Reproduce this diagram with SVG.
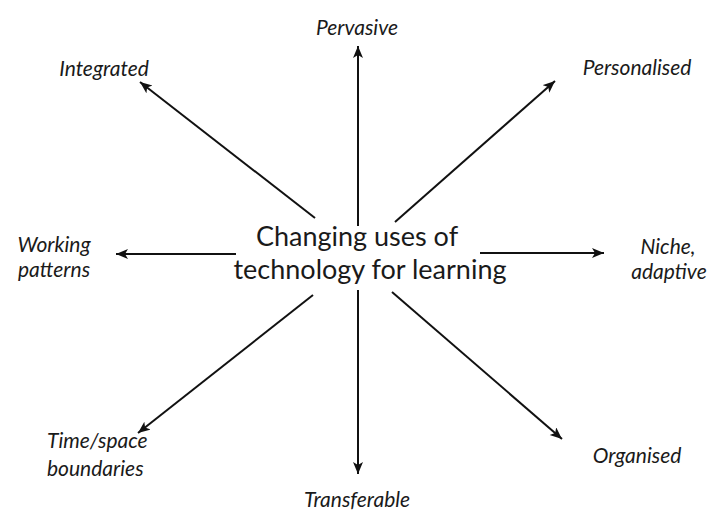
<svg xmlns="http://www.w3.org/2000/svg" width="716" height="513" viewBox="0 0 716 513">
<style>
  .lbl { font-family: Lato, "Open Sans", "Liberation Sans", sans-serif; font-style: italic; font-size: 21px; fill: #1a1a1a; }
  .ctr { font-family: Lato, "Open Sans", "Liberation Sans", sans-serif; font-size: 27px; fill: #1a1a1a; }
  .arr { stroke: #111; stroke-width: 2; fill: none; marker-end: url(#ah); }
</style>
<defs>
  <marker id="ah" markerUnits="userSpaceOnUse" markerWidth="14" markerHeight="12" refX="12" refY="5" orient="auto">
    <path d="M0,0 L12,5 L0,10 L3,5 Z" fill="#111"/>
  </marker>
</defs>
<rect width="716" height="513" fill="#fff"/>
<g id="connectors">
  <line class="arr" x1="358" y1="226" x2="358" y2="46"/>
  <line class="arr" x1="358" y1="290" x2="358" y2="474"/>
  <line class="arr" x1="236" y1="254" x2="116" y2="254"/>
  <line class="arr" x1="480" y1="253" x2="604" y2="253"/>
  <line class="arr" x1="315" y1="218" x2="140" y2="82"/>
  <line class="arr" x1="395" y1="222" x2="555" y2="81"/>
  <line class="arr" x1="313" y1="295" x2="138" y2="433"/>
  <line class="arr" x1="392" y1="292" x2="562" y2="439"/>
</g>
<g id="center">
  <text class="ctr" x="357" y="246" text-anchor="middle">Changing uses of</text>
  <text class="ctr" x="370" y="279" text-anchor="middle">technology for learning</text>
</g>
<g id="pervasive"><text class="lbl" x="357" y="35" text-anchor="middle">Pervasive</text></g>
<g id="integrated"><text class="lbl" x="104" y="76" text-anchor="middle">Integrated</text></g>
<g id="personalised"><text class="lbl" x="637" y="75" text-anchor="middle">Personalised</text></g>
<g id="working">
  <text class="lbl" x="54" y="252" text-anchor="middle">Working</text>
  <text class="lbl" x="54" y="277" text-anchor="middle">patterns</text>
</g>
<g id="niche">
  <text class="lbl" x="668" y="254" text-anchor="middle">Niche,</text>
  <text class="lbl" x="669" y="279" text-anchor="middle">adaptive</text>
</g>
<g id="timespace">
  <text class="lbl" x="47" y="448">Time/space</text>
  <text class="lbl" x="47" y="476">boundaries</text>
</g>
<g id="transferable"><text class="lbl" x="357" y="507" text-anchor="middle">Transferable</text></g>
<g id="organised"><text class="lbl" x="637" y="463" text-anchor="middle">Organised</text></g>
</svg>
